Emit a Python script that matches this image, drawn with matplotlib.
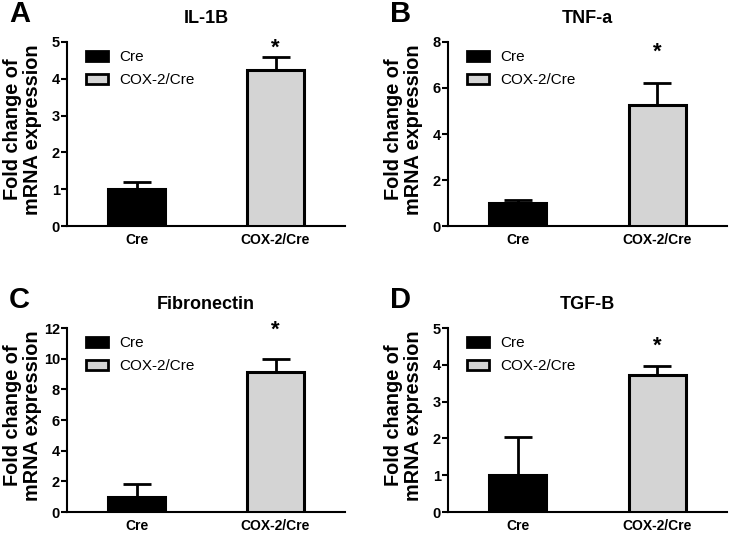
import matplotlib
matplotlib.use("Agg")
import matplotlib.pyplot as plt
from matplotlib.patches import Patch

plt.rcParams['font.family'] = ['Liberation Sans', 'DejaVu Sans']

groups = ['Cre', 'COX-2/Cre']
titles = ['IL-1B', 'TNF-a', 'Fibronectin', 'TGF-B']
letters = ['A', 'B', 'C', 'D']
means = [[1.0, 4.25], [1.0, 5.25], [1.0, 9.15], [1.0, 3.72]]
errs = [[0.2, 0.33], [0.15, 0.95], [0.8, 0.8], [1.05, 0.26]]
star_y = [4.84, 7.57, 11.87, 4.51]
ymax = [5, 8, 12, 5]
ystep = [1, 2, 2, 1]
colors = ['black', '#d4d4d4']

fig = plt.figure(figsize=(7.31, 5.35), dpi=100)
W, H = 731, 535
# axes boxes in pixels: left, top, right, bottom
boxes = [(67, 42, 345, 226), (448, 42, 727, 226),
         (67, 328, 345, 512), (448, 328, 727, 512)]

for i, (l, t, r, b) in enumerate(boxes):
    ax = fig.add_axes([l / W, 1 - b / H, (r - l) / W, (b - t) / H])
    x = [0, 1]
    for j in range(2):
        ax.errorbar(x[j], means[i][j], yerr=[[0], [errs[i][j]]], color='black',
                    elinewidth=2, capsize=10, capthick=2, zorder=2)
        ax.bar(x[j], means[i][j], width=0.41, color=colors[j], edgecolor='black',
               linewidth=2.2, zorder=3)
    ax.text(1, star_y[i], '*', ha='center', va='center', fontsize=16, fontweight='bold')
    ax.set_xlim(-0.5, 1.5)
    ax.set_ylim(0, ymax[i])
    ax.set_yticks(range(0, ymax[i] + 1, ystep[i]))
    ax.set_xticks(x)
    ax.set_xticklabels(groups, fontweight='bold', fontsize=10)
    for lab in ax.get_yticklabels():
        lab.set_fontweight('bold')
        lab.set_fontsize(10.5)
    ax.spines['top'].set_visible(False)
    ax.spines['right'].set_visible(False)
    ax.spines['left'].set_linewidth(1.5)
    ax.spines['bottom'].set_linewidth(1.5)
    ax.tick_params(axis='y', length=4, width=1.5, pad=1)
    ax.tick_params(axis='x', length=0, pad=5)
    ax.set_ylabel('Fold change of\nmRNA expression', fontsize=14.3, fontweight='bold',
                  linespacing=1.05)
    ax.yaxis.set_label_coords(-0.09, 0.525)
    ax.set_title(titles[i], fontsize=13, fontweight='bold', pad=14)
    handles = [Patch(facecolor=colors[k], edgecolor='black', linewidth=2) for k in range(2)]
    ax.legend(handles, groups, loc='upper left', bbox_to_anchor=(0.02, 1.03), frameon=False,
              fontsize=11, handlelength=1.45, handleheight=0.65, labelspacing=0.6,
              handletextpad=0.7)
    fig.text((l - 58) / W, 1 - (t - 28) / H, letters[i], fontsize=21, fontweight='bold',
             ha='left', va='center')

fig.savefig('out.png', dpi=100)
